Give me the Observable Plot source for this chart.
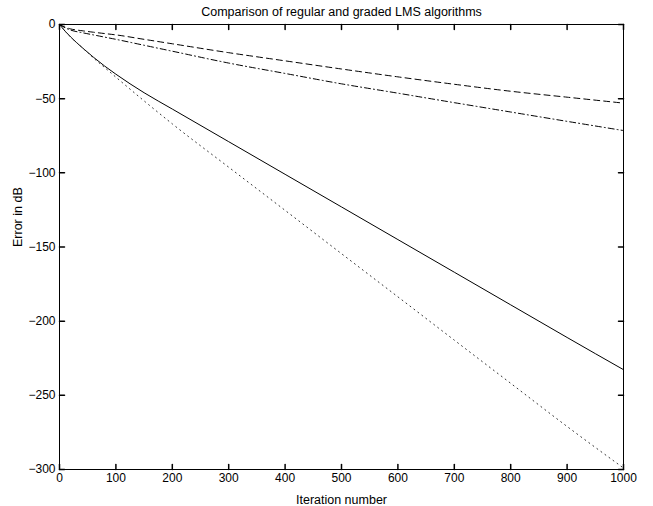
<!DOCTYPE html>
<html><head><meta charset="utf-8">
<script src="https://cdn.jsdelivr.net/npm/d3@7"></script>
<script src="https://cdn.jsdelivr.net/npm/@observablehq/plot@0.6"></script>
<style>html,body{margin:0;padding:0;background:#fff}</style>
</head><body><div id="chart"></div>
<script>
const title = "Comparison of regular and graded LMS algorithms";
const xLabel = "Iteration number";
const yLabel = "Error in dB";

const iterations = [0, 10, 20, 40, 60, 80, 100, 150, 200, 300, 400, 500, 600, 700, 800, 900, 1000];
const solidSeries   = [0, -4.5, -8.5, -15.5, -22, -28, -33.5, -46, -57, -79, -101, -123, -145, -167, -189, -211, -232.7];
const dottedSeries  = [0, -4.5, -8.5, -15.5, -22.5, -29, -35.5, -51.5, -67, -96.2, -125.3, -154.5, -183.6, -212.8, -241.9, -271, -299];
const dashedSeries  = [0, -1.8, -3, -4.2, -5.2, -6.1, -7, -10, -13, -19, -24.5, -30, -35.3, -40.3, -45, -49, -53];
const dashDotSeries = [0, -2.2, -3.8, -5.5, -7, -8.5, -10, -14, -18, -26, -33, -40, -46.3, -52.7, -59, -65.3, -71.5];

const xTicks = [0, 100, 200, 300, 400, 500, 600, 700, 800, 900, 1000];
const yTicks = [0, -50, -100, -150, -200, -250, -300];

const toRows = (vals) => iterations.map((x, i) => ({x, y: vals[i]}));
const tickShape = {draw(ctx, l) { ctx.moveTo(0, 0); ctx.lineTo(0, -l); }};
const tickLen = 5;
const fmt = d => (d < 0 ? "\u2212" : "") + Math.abs(d);

const chart = Plot.plot({
  width: 653,
  height: 506,
  marginLeft: 59,
  marginRight: 30,
  marginTop: 24,
  marginBottom: 37,
  style: {fontFamily: "'Liberation Sans', Arial, sans-serif", fontSize: "12px", background: "#fff", color: "#000"},
  x: {domain: [0, 1000], nice: false},
  y: {domain: [-300, 0], nice: false},
  marks: [
    Plot.line(toRows(solidSeries), {x: "x", y: "y", stroke: "#000", strokeWidth: 1, curve: "monotone-x"}),
    Plot.line(toRows(dottedSeries), {x: "x", y: "y", stroke: "#333", strokeWidth: 1, strokeDasharray: "1,4", curve: "monotone-x"}),
    Plot.line(toRows(dashedSeries), {x: "x", y: "y", stroke: "#000", strokeWidth: 1, strokeDasharray: "6,4", curve: "monotone-x"}),
    Plot.line(toRows(dashDotSeries), {x: "x", y: "y", stroke: "#000", strokeWidth: 1, strokeDasharray: "6,3,1,3", curve: "monotone-x"}),
    Plot.frame({stroke: "#000", strokeWidth: 1}),
    Plot.vectorX(xTicks, {x: d => d, frameAnchor: "bottom", anchor: "start", rotate: 0, length: tickLen, shape: tickShape, stroke: "#000"}),
    Plot.vectorX(xTicks, {x: d => d, frameAnchor: "top", anchor: "start", rotate: 180, length: tickLen, shape: tickShape, stroke: "#000"}),
    Plot.vectorY(yTicks, {y: d => d, frameAnchor: "left", anchor: "start", rotate: 90, length: tickLen, shape: tickShape, stroke: "#000"}),
    Plot.vectorY(yTicks, {y: d => d, frameAnchor: "right", anchor: "start", rotate: -90, length: tickLen, shape: tickShape, stroke: "#000"}),
    Plot.axisX(xTicks, {anchor: "bottom", tickSize: 0, tickPadding: 4, label: null, fontSize: 12, tickFormat: fmt}),
    Plot.axisY(yTicks, {anchor: "left", tickSize: 0, tickPadding: 4, label: null, fontSize: 12, tickFormat: fmt}),
    Plot.text([title], {text: d => d, frameAnchor: "top", dy: -13, lineAnchor: "middle", fontSize: 12.5}),
    Plot.text([xLabel], {text: d => d, frameAnchor: "bottom", dy: 30, lineAnchor: "middle", fontSize: 12.5}),
    Plot.text([yLabel], {text: d => d, frameAnchor: "left", dx: -42, rotate: -90, lineAnchor: "middle", fontSize: 12.5})
  ]
});
document.getElementById("chart").appendChild(chart);
</script>
</body></html>
